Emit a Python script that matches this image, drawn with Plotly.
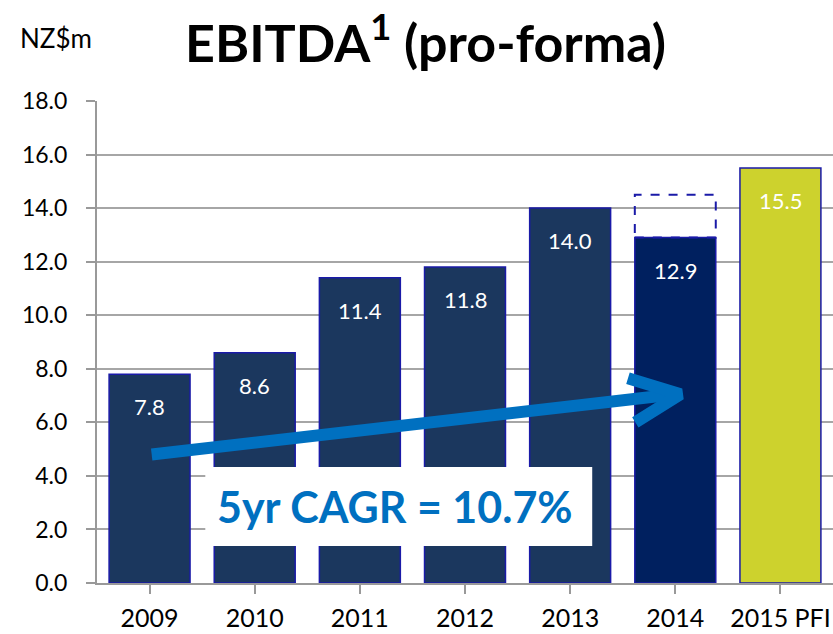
import plotly.graph_objects as go

years = ["2009", "2010", "2011", "2012", "2013", "2014", "2015 PFI"]
ebitda = [7.8, 8.6, 11.4, 11.8, 14.0, 12.9, 15.5]
bar_colors = ["#1B375E"] * 5 + ["#00205F", "#CDD22D"]
y_ticks = [0, 2, 4, 6, 8, 10, 12, 14, 16, 18]
dashed_top_2014 = 14.5

# arrow path (category index, value)
arrow_x = [0.02, 5.0]
arrow_y = [4.8, 7.05]
head_x = [4.55, 5.05, 4.62]
head_y = [7.65, 7.05, 6.0]
cagr_text = "5yr CAGR = 10.7%"

font = "Lato, Open Sans, sans-serif"
bar_width = 0.77

W, H = 833, 634
L, T, B = 97, 101, 51
plot_w, plot_h = W - L, H - T - B


def paper_x(px):
    return (px - L) / plot_w


def paper_y(py):
    return (H - B - py) / plot_h


fig = go.Figure()

fig.add_trace(go.Bar(
    x=list(range(len(years))),
    y=ebitda,
    width=bar_width,
    marker=dict(color=bar_colors, line=dict(color="#1A1AA8", width=1.5)),
    showlegend=False,
    hoverinfo="skip",
))

# value labels inside the bars
for i, v in enumerate(ebitda):
    fig.add_annotation(
        x=i, y=v, text="{:.1f}".format(v), showarrow=False,
        yanchor="top", yshift=-17,
        font=dict(family=font, size=22, color="white"),
    )

# dashed outline above 2014 (pre-adjustment level)
fig.add_shape(
    type="rect", x0=5 - bar_width / 2, x1=5 + bar_width / 2,
    y0=ebitda[5], y1=dashed_top_2014,
    line=dict(color="#1A1AA8", width=2, dash="dash"), fillcolor="rgba(0,0,0,0)",
)

# CAGR arrow
fig.add_trace(go.Scatter(
    x=arrow_x, y=arrow_y, mode="lines",
    line=dict(color="#0070C0", width=12), showlegend=False, hoverinfo="skip",
))
fig.add_trace(go.Scatter(
    x=head_x, y=head_y, mode="lines",
    line=dict(color="#0070C0", width=12), showlegend=False, hoverinfo="skip",
))

# CAGR box
fig.add_shape(
    type="rect", x0=0.53, x1=4.21, y0=1.38, y1=4.33,
    line=dict(width=0), fillcolor="white", layer="above",
)
fig.add_annotation(
    x=2.33, y=2.85, text="<b>" + cagr_text + "</b>", showarrow=False,
    xanchor="center", yanchor="middle",
    font=dict(family=font, size=43, color="#0070C0"),
)

# title and unit label
fig.add_annotation(
    x=paper_x(425), xref="paper", y=paper_y(38), yref="paper",
    xanchor="center", yanchor="middle",
    text="<b>EBITDA<sup>1</sup> (pro-forma)</b>", showarrow=False,
    font=dict(family=font, size=52, color="black"),
)
fig.add_annotation(
    x=paper_x(56), xref="paper", y=paper_y(38), yref="paper",
    xanchor="center", yanchor="middle",
    text="NZ$m", showarrow=False,
    font=dict(family=font, size=26, color="black"),
)

fig.update_layout(
    width=W, height=H,
    margin=dict(l=L, r=0, t=T, b=B),
    plot_bgcolor="white", paper_bgcolor="white",
    font=dict(family=font, size=25, color="black"),
)

fig.update_xaxes(
    range=[-0.5, 6.5], tickvals=list(range(len(years))), ticktext=years,
    tickson="boundaries", ticks="outside", ticklen=9, tickcolor="#999999",
    tickwidth=2, showline=True, linecolor="#999999", linewidth=2,
    ticklabelstandoff=3, tickfont=dict(size=25), automargin=False,
    showgrid=False, zeroline=False, fixedrange=True,
)
fig.update_yaxes(
    range=[0, 18], tickvals=y_ticks, tickformat=".1f",
    ticks="outside", ticklen=9, tickcolor="#999999", tickwidth=2,
    showline=True, linecolor="#999999", linewidth=2,
    ticklabelstandoff=14, tickfont=dict(size=23), automargin=False,
    showgrid=True, gridcolor="#A6A6A6", gridwidth=2, zeroline=False,
)

# drop the browser's default body margin so the figure fills the window
fig.write_html(
    "out.html",
    config={"displayModeBar": False},
    post_script="document.body.style.margin = '0';",
)
